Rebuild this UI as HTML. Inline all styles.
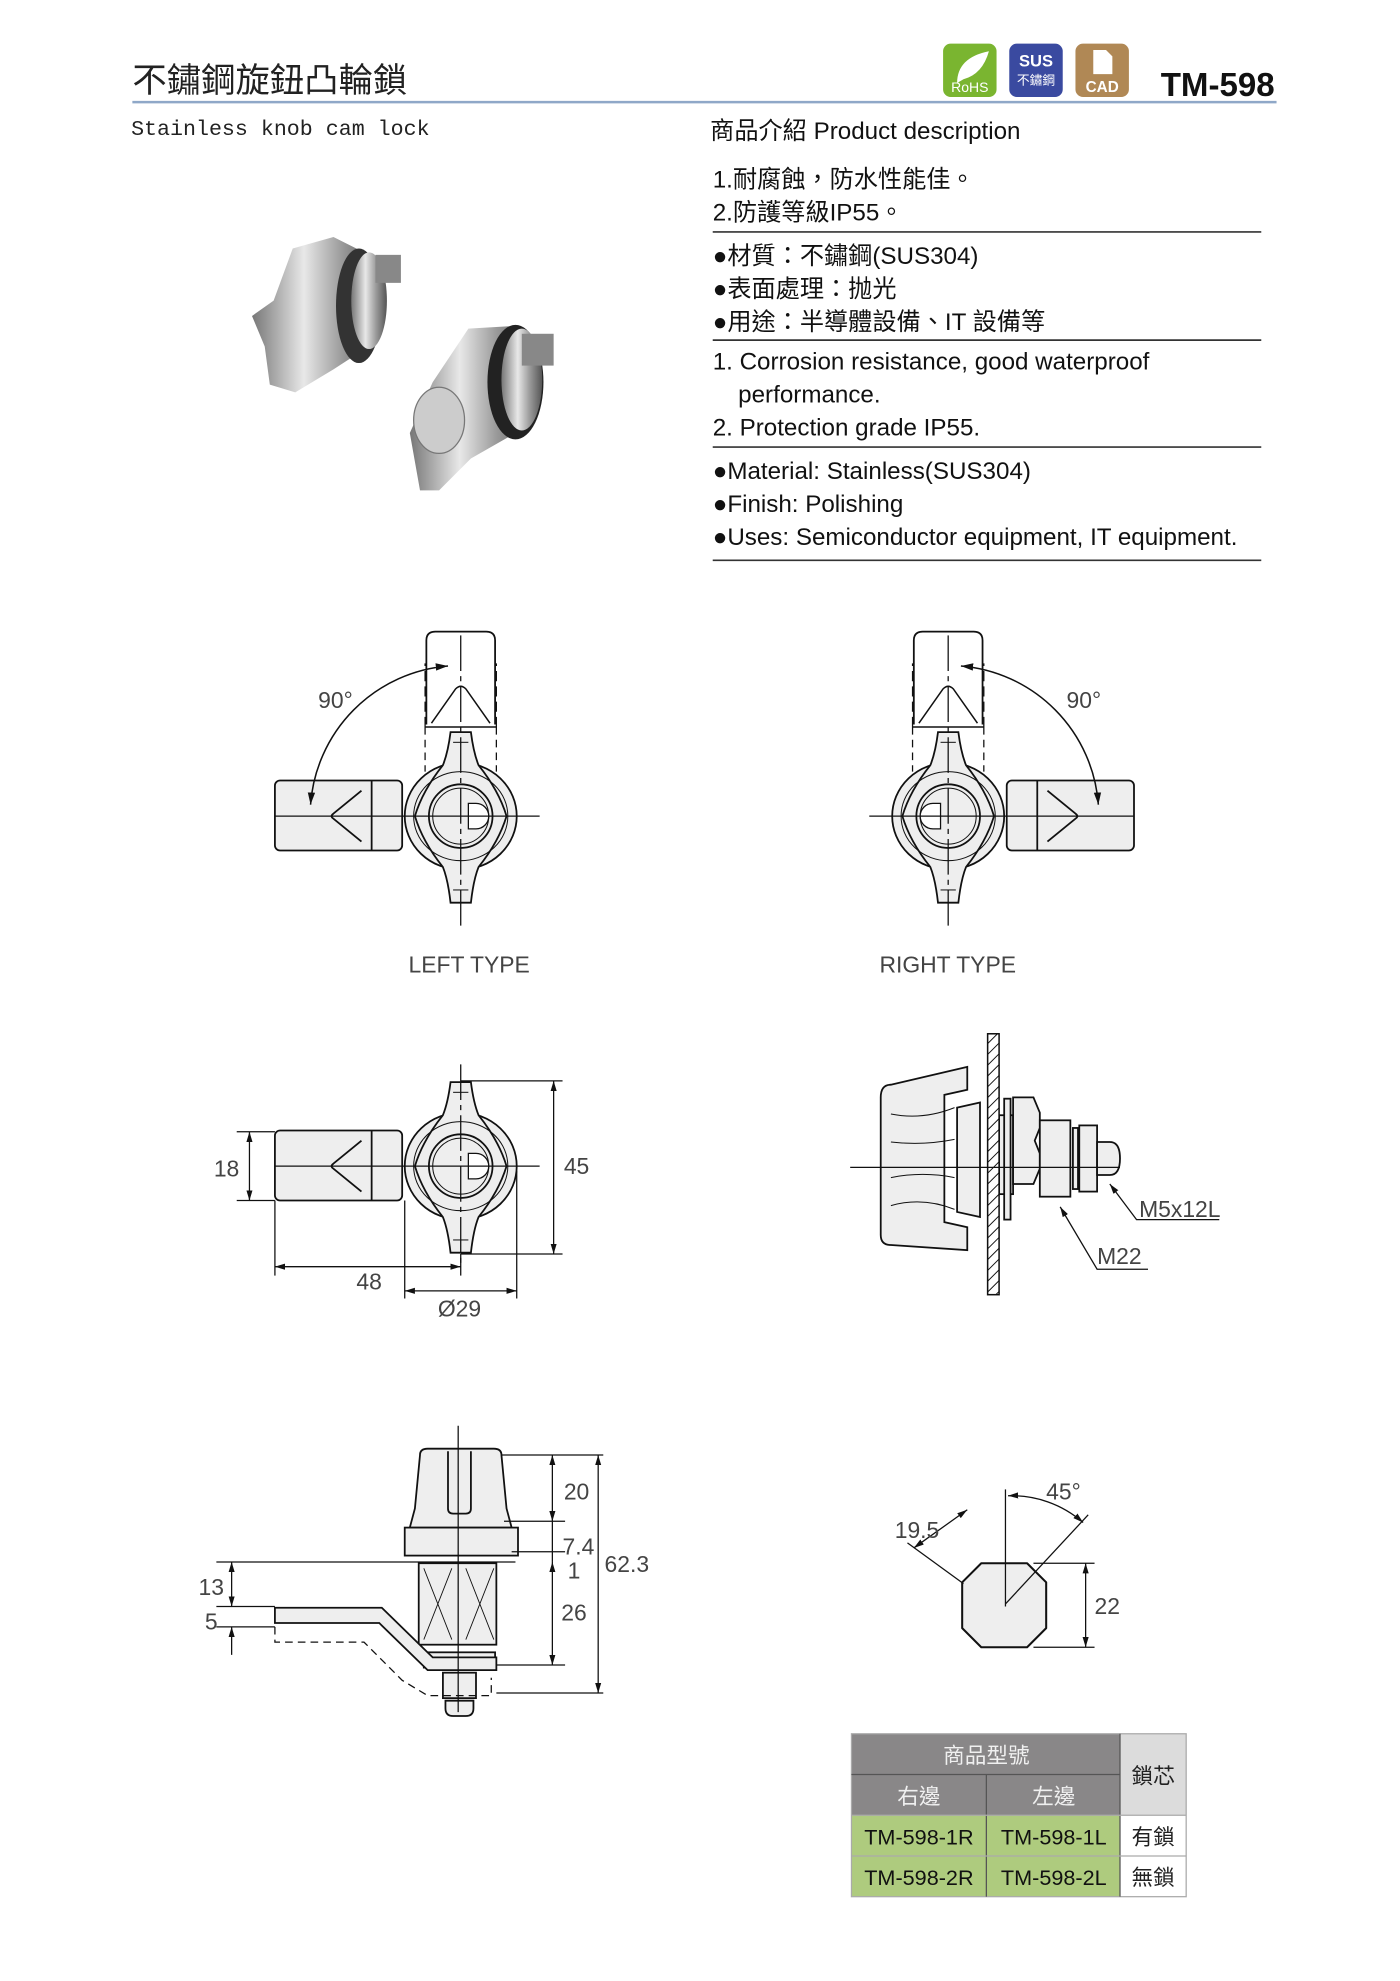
<!DOCTYPE html>
<html><head><meta charset="utf-8"><style>
html,body{margin:0;padding:0;background:#fff}
svg{display:block}
.s{font-family:"Liberation Sans","Noto Sans CJK TC",sans-serif}
.d{font-family:"Liberation Sans",sans-serif;font-size:18px;fill:#444}
.t{font-family:"Liberation Sans","Noto Sans CJK TC",sans-serif;font-size:19px;fill:#111}
</style></head><body>
<svg width="1400" height="1981" viewBox="0 0 1100 1556" xmlns="http://www.w3.org/2000/svg">
<defs>
<marker id="a" viewBox="0 0 10 10" refX="10" refY="5" markerWidth="8" markerHeight="8" orient="auto-start-reverse"><path d="M0,2 L10,5 L0,8z" fill="#111"/></marker>
<linearGradient id="m" x1="0" x2="1"><stop offset="0" stop-color="#777"/><stop offset=".4" stop-color="#e8e8e8"/><stop offset=".7" stop-color="#999"/><stop offset="1" stop-color="#555"/></linearGradient>
<pattern id="h" width="6" height="6" patternUnits="userSpaceOnUse" patternTransform="rotate(45)"><rect width="6" height="6" fill="#fff"/><line x1="0" y1="0" x2="0" y2="6" stroke="#111" stroke-width="1.5"/></pattern>
<g id="knob" stroke="#111" fill="#eee" stroke-width="1.4">
 <rect x="-146" y="-28" width="100" height="55" rx="4"/>
 <line x1="-70" y1="-28" x2="-70" y2="27"/>
 <path d="M-78,-20 L-100,-2 Q-103,0 -100,2 L-78,20" fill="none"/>
 <ellipse cx="0" cy="0" rx="44" ry="42"/>
 <path d="M-8,-66 L8,-66 Q10,-50 14,-40 Q30,-20 36,0 Q30,20 14,40 Q10,50 8,68 L-8,68 Q-10,50 -14,40 Q-30,20 -36,0 Q-30,-20 -14,-40 Q-10,-50 -8,-66z"/>
 <ellipse cx="0" cy="0" rx="37" ry="35" fill="none" stroke-width=".8"/>
 <circle cx="0" cy="0" r="25"/>
 <circle cx="0" cy="0" r="22" fill="none" stroke-width=".8"/>
 <path d="M6,-10 h6 a10,10 0 0 1 0,20 h-6z" fill="#fff" stroke-width="1"/>
 <line x1="-6" y1="-58" x2="6" y2="-58" stroke-width=".8"/><line x1="-6" y1="58" x2="6" y2="58" stroke-width=".8"/>
</g>
<g id="top">
 <use href="#knob"/>
 <line x1="-146" y1="0" x2="62" y2="0" stroke="#111" stroke-width="1"/>
 <line x1="0" y1="-142" x2="0" y2="90" stroke="#111" stroke-width="1" stroke-dasharray="28,4,4,4"/>
 <path d="M-27,-72 L-27,-138 Q-27,-145 -20,-145 L20,-145 Q27,-145 27,-138 L27,-72" fill="none" stroke="#111" stroke-width="1.4"/>
 <line x1="-28" y1="-70" x2="28" y2="-70" stroke="#111" stroke-width="1.2"/>
 <path d="M-28,-70 v-50 M28,-70 v-50" stroke="#111" stroke-width="1" stroke-dasharray="8,4"/>
 <path d="M-28,-70 v35 M28,-70 v35" stroke="#111" stroke-width="1" stroke-dasharray="6,4"/>
 <path d="M-23,-73 L-4,-100 Q0,-104 4,-100 L23,-73" fill="none" stroke="#111" stroke-width="1.2"/>
</g>
</defs>

<!-- header -->
<text x="104" y="72" font-size="27" fill="#222" class="s">不鏽鋼旋鈕凸輪鎖</text>
<line x1="104" y1="80" x2="1003" y2="80" stroke="#8fa8c8" stroke-width="2"/>
<text x="103" y="106" font-size="17" fill="#222" style="font-family:'Liberation Mono',monospace">Stainless knob cam lock</text>
<rect x="741" y="34" width="42" height="42" rx="6" fill="#7ab530"/>
<path d="M752,65 Q752,45 777,40 Q772,58 757,62" fill="#fff"/>
<text x="762" y="72" font-size="11" fill="#fff" text-anchor="middle" class="s">RoHS</text>
<rect x="793" y="34" width="42" height="42" rx="6" fill="#3a4aa0"/>
<text x="814" y="52" font-size="13" font-weight="bold" fill="#fff" text-anchor="middle" class="s">SUS</text>
<text x="814" y="66" font-size="10" fill="#fff" text-anchor="middle" class="s">不鏽鋼</text>
<rect x="845" y="34" width="42" height="42" rx="6" fill="#b08855"/>
<path d="M859,39 h10 l5,5 v14 h-15z" fill="#fff"/>
<text x="866" y="72" font-size="12" font-weight="bold" fill="#fff" text-anchor="middle" class="s">CAD</text>
<text x="912" y="75" font-size="26" font-weight="bold" fill="#111" class="s">TM-598</text>

<!-- description -->
<text x="558" y="109" class="t">商品介紹 Product description</text>
<text x="560" y="147" class="t">1.耐腐蝕，防水性能佳。</text>
<text x="560" y="173" class="t">2.防護等級IP55。</text>
<text x="560" y="207" class="t">●材質：不鏽鋼(SUS304)</text>
<text x="560" y="233" class="t">●表面處理：抛光</text>
<text x="560" y="259" class="t">●用途：半導體設備、IT 設備等</text>
<text x="560" y="290" class="t">1. Corrosion resistance, good waterproof</text>
<text x="580" y="316" class="t">performance.</text>
<text x="560" y="342" class="t">2. Protection grade IP55.</text>
<text x="560" y="376" class="t">●Material: Stainless(SUS304)</text>
<text x="560" y="402" class="t">●Finish: Polishing</text>
<text x="560" y="428" class="t">●Uses: Semiconductor equipment, IT equipment.</text>
<g stroke="#333" stroke-width="1.3">
<line x1="560" y1="182" x2="991" y2="182"/><line x1="560" y1="267" x2="991" y2="267"/>
<line x1="560" y1="351" x2="991" y2="351"/><line x1="560" y1="440" x2="991" y2="440"/>
</g>

<!-- photos -->
<g>
<path d="M230,195 L262,186 L280,195 L290,215 L300,250 L285,275 L262,290 L232,308 L212,302 L208,272 L198,248 L215,236 Z" fill="url(#m)"/>
<ellipse cx="282" cy="240" rx="18" ry="45" fill="#333"/><ellipse cx="290" cy="236" rx="14" ry="38" fill="url(#m)"/>
<rect x="295" y="200" width="20" height="22" fill="#888"/>
<path d="M368,258 L402,256 L420,270 L420,300 L405,340 L370,360 L345,385 L330,385 L322,340 L340,300 Z" fill="url(#m)"/>
<ellipse cx="405" cy="300" rx="22" ry="45" fill="#222"/><ellipse cx="410" cy="298" rx="16" ry="40" fill="url(#m)"/>
<rect x="410" y="262" width="25" height="25" fill="#888"/>
<ellipse cx="345" cy="330" rx="20" ry="26" fill="#ccc" stroke="#777"/>
</g>

<!-- top views -->
<use href="#top" transform="translate(362 641)"/>
<use href="#top" transform="translate(745 641) scale(-1 1)"/>
<path d="M244,632 A118,118 0 0 1 352,523" fill="none" stroke="#111" stroke-width="1.2" marker-start="url(#a)" marker-end="url(#a)"/>
<path d="M863,632 A118,118 0 0 0 755,523" fill="none" stroke="#111" stroke-width="1.2" marker-start="url(#a)" marker-end="url(#a)"/>
<text x="250" y="556" class="d">90°</text>
<text x="838" y="556" class="d">90°</text>
<text x="321" y="764" class="d">LEFT TYPE</text>
<text x="691" y="764" class="d">RIGHT TYPE</text>

<!-- front view with dims -->
<g transform="translate(362 916)"><use href="#knob"/>
<line x1="-146" y1="0" x2="62" y2="0" stroke="#111"/><line x1="0" y1="-80" x2="0" y2="80" stroke="#111" stroke-dasharray="28,4,4,4"/></g>
<g stroke="#111" stroke-width="1" fill="none">
<line x1="186" y1="889" x2="216" y2="889"/><line x1="186" y1="943" x2="216" y2="943"/>
<line x1="196" y1="889" x2="196" y2="943" marker-start="url(#a)" marker-end="url(#a)"/>
<line x1="362" y1="849" x2="442" y2="849"/><line x1="362" y1="985" x2="442" y2="985"/>
<line x1="435" y1="849" x2="435" y2="985" marker-start="url(#a)" marker-end="url(#a)"/>
<line x1="216" y1="943" x2="216" y2="1002"/><line x1="362" y1="985" x2="362" y2="1002"/>
<line x1="216" y1="995" x2="362" y2="995" marker-start="url(#a)" marker-end="url(#a)"/>
<line x1="318" y1="943" x2="318" y2="1020"/><line x1="406" y1="920" x2="406" y2="1020"/>
<line x1="318" y1="1014" x2="406" y2="1014" marker-start="url(#a)" marker-end="url(#a)"/>
</g>
<text x="168" y="924" class="d">18</text><text x="443" y="922" class="d">45</text>
<text x="280" y="1013" class="d">48</text><text x="344" y="1034" class="d">Ø29</text>

<!-- side view M22 -->
<g stroke="#111" stroke-width="1.4" fill="#eee">
<path d="M700,852 Q692,852 692,862 L692,970 Q692,978 700,978 L760,982 L760,964 L742,960 L742,860 L760,856 L760,838 Z"/>
<path d="M700,875 Q725,880 750,870 M700,897 Q725,900 750,895 M700,925 Q725,920 750,925 M700,947 Q725,940 750,950" fill="none" stroke-width=".8"/>
<path d="M752,870 L770,866 L770,956 L752,952 Z"/>
<rect x="785" y="876" width="11" height="62"/>
<rect x="789" y="863" width="5" height="95"/>
<path d="M796,862 h16 l5,12 v12 l-4,10 l4,10 v12 l-5,12 h-16z"/>
<rect x="817" y="880" width="24" height="60"/>
<rect x="843" y="886" width="4" height="48"/>
<rect x="848" y="884" width="14" height="52"/>
<path d="M862,897 h10 q8,0 8,13 q0,13 -8,13 h-10z"/>
</g>
<rect x="776" y="812" width="9" height="205" fill="url(#h)" stroke="#111" stroke-width="1.2"/>
<line x1="668" y1="917" x2="880" y2="917" stroke="#111"/>
<g stroke="#111" fill="none" stroke-width="1">
<path d="M958,958 L893,958 L872,930" marker-end="url(#a)"/>
<path d="M902,997 L862,997 L833,948" marker-end="url(#a)"/>
</g>
<text x="895" y="956" class="d">M5x12L</text>
<text x="862" y="993" class="d">M22</text>

<!-- bottom side view -->
<g stroke="#111" stroke-width="1.4" fill="#eee">
<path d="M330,1143 Q330,1138 336,1138 L388,1138 Q394,1138 394,1143 L398,1185 L402,1200 L322,1200 L326,1185 Z"/>
<path d="M352,1140 v45 q0,4 4,4 h10 q4,0 4,-4 v-45" fill="none"/>
<rect x="318" y="1200" width="89" height="22"/>
<rect x="329" y="1228" width="61" height="64"/>
<path d="M333,1232 L355,1288 M355,1232 L333,1288 M366,1232 L388,1288 M388,1232 L366,1288" stroke-width=".7" fill="none"/>
<rect x="333" y="1298" width="56" height="12"/>
<path d="M216,1263 L300,1263 L340,1302 L390,1302 L390,1312 L336,1312 L298,1275 L216,1275 Z"/>
<rect x="348" y="1314" width="26" height="20"/>
<path d="M350,1336 h22 v6 q0,6 -6,6 h-10 q-6,0 -6,-6z"/>
<path d="M216,1278 v12 h70 l30,30 l20,12 h50 v-14" fill="none" stroke-dasharray="6,4" stroke-width="1"/>
</g>
<line x1="360" y1="1120" x2="360" y2="1345" stroke="#111"/>
<g stroke="#111" stroke-width="1" fill="none">
<line x1="394" y1="1143" x2="474" y2="1143"/>
<line x1="396" y1="1195" x2="444" y2="1195"/>
<line x1="402" y1="1219" x2="444" y2="1219"/>
<line x1="170" y1="1227" x2="405" y2="1227"/>
<line x1="390" y1="1308" x2="444" y2="1308"/>
<line x1="390" y1="1330" x2="474" y2="1330"/>
<line x1="434" y1="1143" x2="434" y2="1195" marker-start="url(#a)" marker-end="url(#a)"/>
<line x1="434" y1="1195" x2="434" y2="1227"/>
<line x1="434" y1="1227" x2="434" y2="1308" marker-start="url(#a)" marker-end="url(#a)"/>
<line x1="470" y1="1143" x2="470" y2="1330" marker-start="url(#a)" marker-end="url(#a)"/>
<line x1="170" y1="1262" x2="216" y2="1262"/><line x1="170" y1="1278" x2="216" y2="1278"/>
<line x1="182" y1="1227" x2="182" y2="1262" marker-start="url(#a)" marker-end="url(#a)"/>
<line x1="182" y1="1278" x2="182" y2="1300" marker-start="url(#a)"/>
</g>
<text x="443" y="1178" class="d">20</text><text x="442" y="1221" class="d">7.4</text>
<text x="446" y="1240" class="d">1</text><text x="441" y="1273" class="d">26</text>
<text x="475" y="1235" class="d">62.3</text>
<text x="156" y="1253" class="d">13</text><text x="161" y="1280" class="d">5</text>

<!-- octagon -->
<path d="M771,1228 h36 l15,15 v36 l-15,15 h-36 l-15,-15 v-36 z" fill="#eee" stroke="#111" stroke-width="1.6" stroke-linejoin="round"/>
<g stroke="#111" stroke-width="1" fill="none">
<line x1="790" y1="1170" x2="790" y2="1262"/>
<line x1="812" y1="1228" x2="860" y2="1228"/><line x1="812" y1="1294" x2="860" y2="1294"/>
<line x1="853" y1="1228" x2="853" y2="1294" marker-start="url(#a)" marker-end="url(#a)"/>
<line x1="757" y1="1244" x2="713" y2="1212"/>
<line x1="718" y1="1216" x2="760" y2="1186" marker-start="url(#a)" marker-end="url(#a)"/>
<line x1="790" y1="1260" x2="855" y2="1190"/>
<path d="M792,1175 A85,85 0 0 1 851,1196" marker-start="url(#a)" marker-end="url(#a)"/>
</g>
<text x="703" y="1208" class="d">19.5</text><text x="822" y="1178" class="d">45°</text>
<text x="860" y="1268" class="d">22</text>

<!-- table -->
<g font-size="17" text-anchor="middle" class="s">
<rect x="669" y="1362" width="211" height="64" fill="#898788"/>
<rect x="880" y="1362" width="52" height="64" fill="#dcdcdc"/>
<rect x="669" y="1426" width="211" height="64" fill="#aecb7e"/>
<rect x="880" y="1426" width="52" height="64" fill="#fff"/>
<g stroke="#555" stroke-width="1">
<rect x="669" y="1362" width="263" height="128" fill="none" stroke="#aaa"/>
<line x1="669" y1="1394" x2="880" y2="1394"/><line x1="775" y1="1394" x2="775" y2="1490"/>
<line x1="880" y1="1362" x2="880" y2="1490"/>
<line x1="669" y1="1426" x2="932" y2="1426" stroke="#aaa"/><line x1="669" y1="1458" x2="932" y2="1458" stroke="#aaa"/>
</g>
<text x="775" y="1385" fill="#f0f0f0">商品型號</text>
<text x="722" y="1417" fill="#f0f0f0">右邊</text><text x="828" y="1417" fill="#f0f0f0">左邊</text>
<text x="906" y="1401" fill="#222">鎖芯</text>
<text x="722" y="1449" fill="#111">TM-598-1R</text><text x="828" y="1449" fill="#111">TM-598-1L</text>
<text x="906" y="1449" fill="#222">有鎖</text>
<text x="722" y="1481" fill="#111">TM-598-2R</text><text x="828" y="1481" fill="#111">TM-598-2L</text>
<text x="906" y="1481" fill="#222">無鎖</text>
</g>
</svg>
</body></html>
